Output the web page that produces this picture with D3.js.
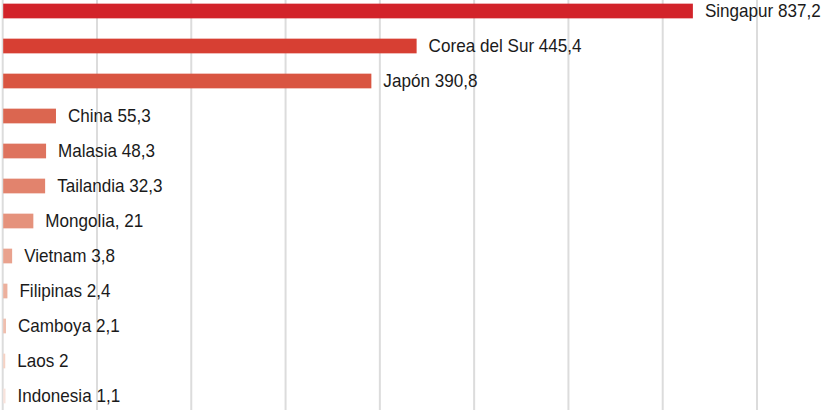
<!DOCTYPE html>
<html>
<head>
<meta charset="utf-8">
<script src="https://cdn.jsdelivr.net/npm/d3@7"></script>
<style>
  html,body{margin:0;padding:0;background:#fff;}
  svg{display:block;}
  .label{font-family:"Liberation Sans",Arial,sans-serif;font-size:18px;fill:#1a1a1a;}
</style>
</head>
<body>
<svg id="chart" width="827" height="410"></svg>
<script>
// data as printed on the chart
const countries = ['Singapur','Corea del Sur','Japón','China','Malasia','Tailandia','Mongolia','Vietnam','Filipinas','Camboya','Laos','Indonesia']
const labels = ['Singapur 837,2','Corea del Sur 445,4','Japón 390,8','China 55,3','Malasia 48,3','Tailandia 32,3','Mongolia, 21','Vietnam 3,8','Filipinas 2,4','Camboya 2,1','Laos 2','Indonesia 1,1']
// bar lengths as drawn against the gridlines (gridline step = 100)
const barLengths = [732, 439, 391, 56.5, 46, 45, 32.5, 10, 5, 3.5, 2.7, 3]
const ticks = [0,100,200,300,400,500,600,700,800,900]
const colors = ['#d2232a','#d73f33','#d95541','#db6650','#de735e','#e2836d','#e5927c','#e9a28e','#ecb09d','#efbfaf','#f5d2c4','#f8e3dc']

const svg = d3.select('#chart')
const W = 827, H = 410

const x = d3.scaleLinear().domain([0,800]).range([2.7,757])
const y = d3.scaleBand().domain(countries).range([-6.5,413.5]).paddingInner(0.58).paddingOuter(0.29)

svg.append('g').attr('class','grid')
  .selectAll('line').data(ticks).join('line')
  .attr('x1',d=>x(d)).attr('x2',d=>x(d))
  .attr('y1',0).attr('y2',H)
  .attr('stroke','#dcdcdc').attr('stroke-width',2)

svg.append('g').attr('class','bars')
  .selectAll('rect').data(countries).join('rect')
  .attr('x',x(0)+0.5)
  .attr('y',d=>y(d))
  .attr('width',(d,i)=>x(barLengths[i])-x(0)-0.5)
  .attr('height',y.bandwidth())
  .attr('fill',(d,i)=>colors[i])

// labels are a bit condensed in the original
svg.append('g').attr('class','labels')
  .selectAll('text').data(countries).join('text')
  .attr('class','label')
  .attr('transform',(d,i)=>`translate(${x(barLengths[i])+12},${y(d)+y.bandwidth()/2}) scale(0.95,1)`)
  .attr('dy','0.36em')
  .text((d,i)=>labels[i])
</script>
</body>
</html>
